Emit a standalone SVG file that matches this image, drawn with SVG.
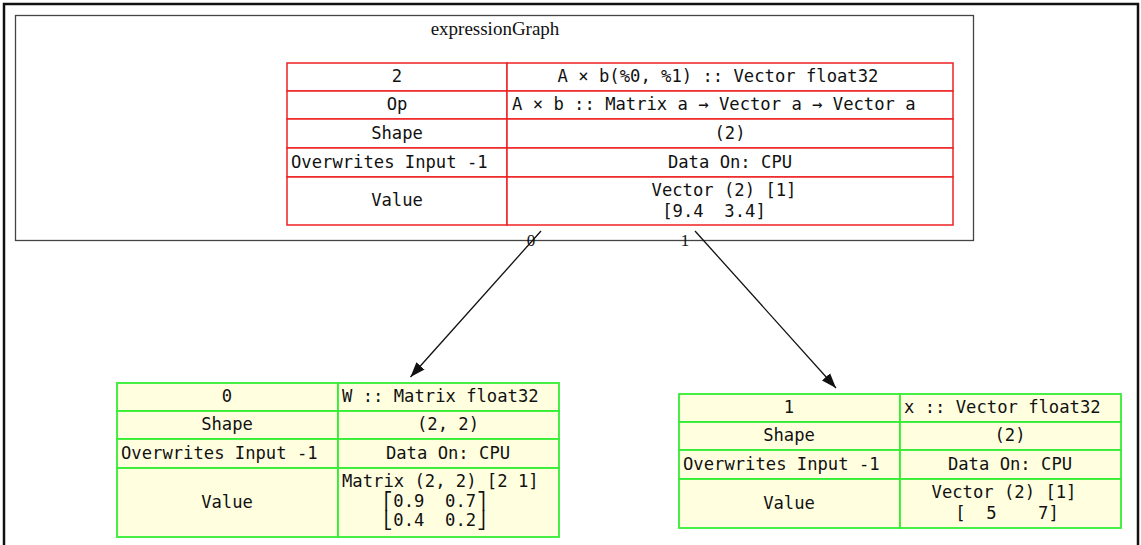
<svg xmlns="http://www.w3.org/2000/svg" width="1141" height="545" viewBox="0 0 1141 545">
  <style>
    .frame { fill: none; stroke: #111; stroke-width: 2.5; }
    .cluster { fill: #fff; stroke: #444; stroke-width: 1.3; }
    .title { font-family: "Liberation Serif", serif; font-size: 19px; fill: #111; text-anchor: middle; }
    .elabel { font-family: "Liberation Serif", serif; font-size: 17px; fill: #111; text-anchor: middle; }
    .redcell { fill: #fff; stroke: #ee2222; stroke-width: 1.5; }
    .greencell { fill: #ffffe0; stroke: #33ee33; stroke-width: 1.8; }
    .t { font-family: "DejaVu Sans Mono", "Liberation Mono", monospace; font-size: 17.2px; fill: #111; text-anchor: middle; }
    .ts { font-family: "DejaVu Sans Mono", "Liberation Mono", monospace; font-size: 17.2px; fill: #111; text-anchor: start; }
    .edge { fill: none; stroke: #111; stroke-width: 1.3; }
  </style>
  <defs>
    <marker id="arrow" markerWidth="16" markerHeight="12" refX="15" refY="6" orient="auto" markerUnits="userSpaceOnUse" viewBox="0 0 16 12">
      <path d="M0,0.5 L15,6 L0,11.5 Z" fill="#111"/>
    </marker>
  </defs>

  <rect width="1141" height="545" fill="#fff"/>
  <!-- outer page frame (open at the bottom) -->
  <path class="frame" d="M4,545 V4 H1138 V545"/>

  <!-- expressionGraph cluster -->
  <g id="cluster_expressionGraph">
    <rect class="cluster" x="15.5" y="15.5" width="958" height="225"/>
    <text class="title" x="495" y="35">expressionGraph</text>
  </g>

  <!-- node 2 : A × b -->
  <g id="node2">
    <rect class="redcell" x="287" y="63" width="220" height="28"/>
    <rect class="redcell" x="507" y="63" width="446" height="28"/>
    <rect class="redcell" x="287" y="91" width="220" height="28"/>
    <rect class="redcell" x="507" y="91" width="446" height="28"/>
    <rect class="redcell" x="287" y="119" width="220" height="29"/>
    <rect class="redcell" x="507" y="119" width="446" height="29"/>
    <rect class="redcell" x="287" y="148" width="220" height="29"/>
    <rect class="redcell" x="507" y="148" width="446" height="29"/>
    <rect class="redcell" x="287" y="177" width="220" height="48"/>
    <rect class="redcell" x="507" y="177" width="446" height="48"/>
    <text class="t" x="397" y="82">2</text>
    <text class="t" x="718" y="82">A × b(%0, %1) :: Vector float32</text>
    <text class="t" x="397" y="110">Op</text>
    <text class="ts" x="512" y="110">A × b :: Matrix a → Vector a → Vector a</text>
    <text class="t" x="397" y="139">Shape</text>
    <text class="t" x="730" y="139">(2)</text>
    <text class="ts" x="291" y="168">Overwrites Input -1</text>
    <text class="t" x="730" y="168">Data On: CPU</text>
    <text class="t" x="397" y="206">Value</text>
    <text class="t" x="724" y="196" xml:space="preserve">Vector (2) [1]</text>
    <text class="t" x="714" y="217" xml:space="preserve">[9.4  3.4]</text>
  </g>

  <!-- node 0 : W -->
  <g id="node0">
    <rect class="greencell" x="117" y="383" width="221" height="28"/>
    <rect class="greencell" x="338" y="383" width="221" height="28"/>
    <rect class="greencell" x="117" y="411" width="221" height="28"/>
    <rect class="greencell" x="338" y="411" width="221" height="28"/>
    <rect class="greencell" x="117" y="439" width="221" height="29"/>
    <rect class="greencell" x="338" y="439" width="221" height="29"/>
    <rect class="greencell" x="117" y="468" width="221" height="69"/>
    <rect class="greencell" x="338" y="468" width="221" height="69"/>
    <text class="t" x="227" y="402">0</text>
    <text class="ts" x="342" y="402">W :: Matrix float32</text>
    <text class="t" x="227" y="430">Shape</text>
    <text class="t" x="448" y="430">(2, 2)</text>
    <text class="ts" x="121" y="459">Overwrites Input -1</text>
    <text class="t" x="448" y="459">Data On: CPU</text>
    <text class="t" x="227" y="508">Value</text>
    <text class="ts" x="342" y="487" xml:space="preserve">Matrix (2, 2) [2 1]</text>
    <text class="ts" x="383" y="507" xml:space="preserve">⎡0.9  0.7⎤</text>
    <text class="ts" x="383" y="526" xml:space="preserve">⎣0.4  0.2⎦</text>
  </g>

  <!-- node 1 : x -->
  <g id="node1">
    <rect class="greencell" x="679" y="394" width="221" height="28"/>
    <rect class="greencell" x="900" y="394" width="221" height="28"/>
    <rect class="greencell" x="679" y="422" width="221" height="28"/>
    <rect class="greencell" x="900" y="422" width="221" height="28"/>
    <rect class="greencell" x="679" y="450" width="221" height="29"/>
    <rect class="greencell" x="900" y="450" width="221" height="29"/>
    <rect class="greencell" x="679" y="479" width="221" height="49"/>
    <rect class="greencell" x="900" y="479" width="221" height="49"/>
    <text class="t" x="789" y="413">1</text>
    <text class="ts" x="904" y="413">x :: Vector float32</text>
    <text class="t" x="789" y="441">Shape</text>
    <text class="t" x="1010" y="441">(2)</text>
    <text class="ts" x="683" y="470">Overwrites Input -1</text>
    <text class="t" x="1010" y="470">Data On: CPU</text>
    <text class="t" x="789" y="509">Value</text>
    <text class="t" x="1004" y="498" xml:space="preserve">Vector (2) [1]</text>
    <text class="t" x="1007" y="519" xml:space="preserve">[  5    7]</text>
  </g>

  <!-- connectors -->
  <g id="edges">
    <line class="edge" x1="541" y1="231" x2="410.5" y2="377" marker-end="url(#arrow)"/>
    <line class="edge" x1="695" y1="231" x2="836" y2="388" marker-end="url(#arrow)"/>
    <text class="elabel" x="531" y="246">0</text>
    <text class="elabel" x="685" y="246">1</text>
  </g>
</svg>
